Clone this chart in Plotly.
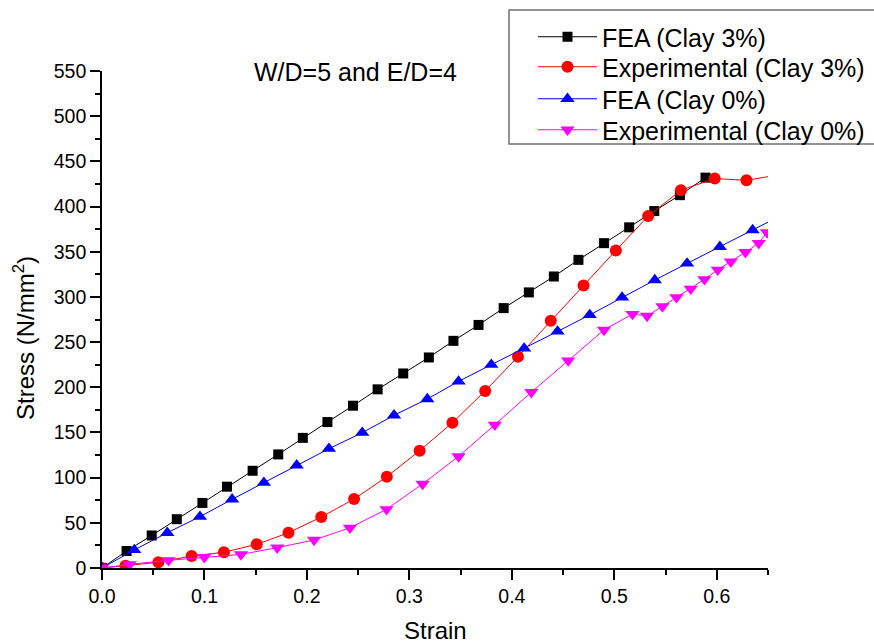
import plotly.graph_objects as go

# Stress-strain data (strain, stress in N/mm^2)
fea3_strain = [0, 0.024, 0.0485, 0.073, 0.098, 0.122, 0.147, 0.172, 0.196, 0.220,
               0.245, 0.269, 0.294, 0.319, 0.343, 0.3675, 0.392, 0.4166, 0.441,
               0.465, 0.490, 0.5145, 0.539, 0.564, 0.589]
fea3_stress = [0, 18.8, 36, 54, 72, 90, 107.6, 125.7, 144, 161.5, 179.6, 197.7,
               215.3, 233, 251.4, 269, 287.6, 305, 322.6, 341, 359.5, 377, 395,
               412.6, 432]

exp3_strain = [0, 0.023, 0.055, 0.0875, 0.119, 0.151, 0.182, 0.214, 0.246, 0.278,
               0.310, 0.342, 0.374, 0.406, 0.438, 0.470, 0.5015, 0.533, 0.565,
               0.598, 0.629, 0.66]
exp3_stress = [0, 2.5, 6.3, 13.3, 17.4, 26.2, 39, 56.4, 76.3, 101, 129.8, 160.8,
               196, 233.8, 273.6, 312.7, 351.4, 389.4, 418, 431, 429, 435]

fea0_strain = [0, 0.0315, 0.0637, 0.0956, 0.127, 0.158, 0.190, 0.2215, 0.254,
               0.285, 0.3175, 0.348, 0.380, 0.412, 0.4446, 0.476, 0.5076, 0.5395,
               0.571, 0.603, 0.635, 0.666]
fea0_stress = [0, 20, 39, 56.8, 76, 94.4, 113.6, 132, 149.7, 169, 187, 206.5, 225,
               243, 261.8, 280, 299.4, 318.6, 337, 355.4, 374, 392]

exp0_strain = [0, 0.027, 0.065, 0.0998, 0.1356, 0.171, 0.207, 0.242, 0.2777,
               0.3129, 0.348, 0.3834, 0.419, 0.455, 0.490, 0.5177, 0.532, 0.547,
               0.5607, 0.5746, 0.588, 0.601, 0.6137, 0.628, 0.641, 0.649]
exp0_stress = [0, 4, 8.5, 12, 15, 22.5, 31, 44.5, 65, 93, 123.5, 158.5, 194.5,
               229.5, 263.5, 281, 279, 289.5, 299.5, 309, 319.5, 330, 339, 349.5,
               359.5, 371.5]

series = [
    ("FEA (Clay 3%)", fea3_strain, fea3_stress, "#000000", "square", 10),
    ("Experimental (Clay 3%)", exp3_strain, exp3_stress, "#FF0000", "circle", 12),
    ("FEA (Clay 0%)", fea0_strain, fea0_stress, "#0000FF", "triangle-up", 12.5),
    ("Experimental (Clay 0%)", exp0_strain, exp0_stress, "#FF00FF", "triangle-down", 12.5),
]

FONT = "Liberation Sans, Arial, sans-serif"

# plot-area pixel geometry, used to convert pixel positions to paper coords
PX_L, PX_R, PX_T, PX_B = 102, 768, 71, 568


def px(xp):
    return (xp - PX_L) / (PX_R - PX_L)


def py(yp):
    return (PX_B - yp) / (PX_B - PX_T)


legend_ids = ["legend", "legend2", "legend3", "legend4"]
legend_rows = [37, 67, 99, 130]

fig = go.Figure()
for (name, xs, ys, color, symbol, size), lid in zip(series, legend_ids):
    fig.add_trace(go.Scatter(
        x=xs, y=ys, name=name, mode="lines+markers", legend=lid,
        line=dict(color=color, width=1),
        marker=dict(symbol=symbol, size=size, color=color, line=dict(width=0)),
    ))

axis_common = dict(
    showline=True, linecolor="black", linewidth=1.6,
    ticks="outside", ticklen=10, tickwidth=1.6, tickcolor="black",
    showgrid=False, zeroline=False, mirror=False,
    tickfont=dict(family=FONT, size=19.5, color="black"),
)

fig.update_xaxes(
    range=[0, 0.65], dtick=0.1, tick0=0, tickformat=".1f",
    minor=dict(dtick=0.05, ticks="outside", ticklen=5, tickwidth=1.6, tickcolor="black"),
    **axis_common,
)
fig.update_yaxes(
    range=[0, 550], dtick=50, tick0=0,
    minor=dict(dtick=25, ticks="outside", ticklen=5, tickwidth=1.6, tickcolor="black"),
    **axis_common,
)

fig.add_annotation(
    text="Strain", xref="paper", yref="paper", x=0.5, y=py(630),
    xanchor="center", yanchor="middle", showarrow=False,
    font=dict(family=FONT, size=24, color="black"),
)
fig.add_annotation(
    text="Stress (N/mm<sup>2</sup>)", xref="paper", yref="paper",
    x=px(24), y=py(338), textangle=-90,
    xanchor="center", yanchor="middle", showarrow=False,
    font=dict(family=FONT, size=24, color="black"),
)
fig.add_annotation(
    text="W/D=5 and E/D=4", xref="paper", yref="paper",
    x=px(355.5), y=py(71.7),
    xanchor="center", yanchor="middle", showarrow=False,
    font=dict(family=FONT, size=25, color="black"),
)

# legend frame
fig.add_shape(
    type="rect", xref="paper", yref="paper", layer="above",
    x0=px(509), x1=px(882), y0=py(144), y1=py(10),
    line=dict(color="#707070", width=1.5), fillcolor="white",
)

legend_style = dict(
    xanchor="left", yanchor="middle",
    bgcolor="rgba(0,0,0,0)", borderwidth=0,
    font=dict(family=FONT, size=25, color="black"),
    itemwidth=59,
)
layout_legends = {}
for lid, row in zip(legend_ids, legend_rows):
    layout_legends[lid] = dict(x=px(533), y=py(row), **legend_style)

fig.update_layout(
    width=874, height=644,
    margin=dict(l=PX_L, r=874 - PX_R, t=PX_T, b=644 - PX_B, autoexpand=False),
    plot_bgcolor="white", paper_bgcolor="white",
    showlegend=True,
    **layout_legends,
)

fig.write_html("out.html")
